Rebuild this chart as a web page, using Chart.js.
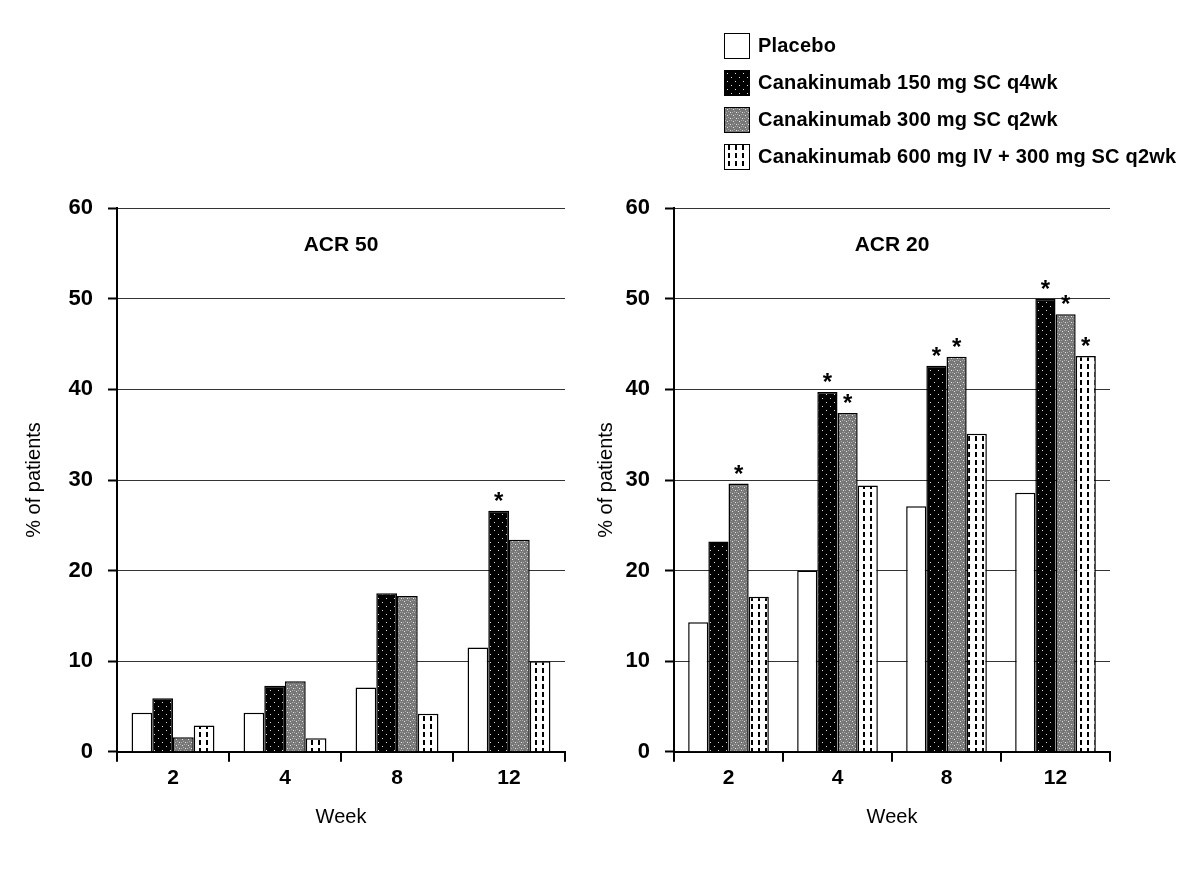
<!DOCTYPE html>
<html>
<head>
  <meta charset="utf-8" />
  <title>ACR response</title>
  <script src="https://cdn.jsdelivr.net/npm/chart.js@4"></script>
  <style>
    body, html { margin: 0; padding: 0; background: #fff; }
    #wrap { position: relative; width: 1200px; height: 873px; font-family: "Liberation Sans", Arial, sans-serif; }
    canvas.chart { position: absolute; }
    #legend { position: absolute; left: 724px; top: 27px; }
    .item { display: flex; align-items: center; height: 37px; }
    .item canvas { width: 24px; height: 24px; border: 1px solid #000; margin-right: 8px; }
    .item span { font-weight: bold; font-size: 20px; letter-spacing: 0.2px; color: #000; }
  </style>
</head>
<body>
<div id="wrap">
  <div id="legend"></div>
  <canvas id="acr50" class="chart" style="left:0;top:180px" width="580" height="649"></canvas>
  <canvas id="acr20" class="chart" style="left:580px;top:180px" width="620" height="649"></canvas>
</div>
<script>
  // data
  const weeks = ['2', '4', '8', '12'];
  const seriesNames = [
    'Placebo',
    'Canakinumab 150 mg SC q4wk',
    'Canakinumab 300 mg SC q2wk',
    'Canakinumab 600 mg IV + 300 mg SC q2wk'
  ];

  const acr50Placebo = [4.3, 4.3, 7.1, 11.5];
  const acr50Can150 = [5.9, 7.3, 17.5, 26.6];
  const acr50Can300 = [1.6, 7.8, 17.2, 23.4];
  const acr50Can600 = [2.9, 1.5, 4.2, 10.0];

  const acr20Placebo = [14.3, 20.0, 27.1, 28.6];
  const acr20Can150 = [23.2, 39.7, 42.6, 50.0];
  const acr20Can300 = [29.6, 37.4, 43.6, 48.3];
  const acr20Can600 = [17.1, 29.4, 35.1, 43.7];

  // significance stars, one row per series (1 = *)
  const acr50Sig = [[0, 0, 0, 0], [0, 0, 0, 1], [0, 0, 0, 0], [0, 0, 0, 0]];
  const acr20Sig = [[0, 0, 0, 0], [0, 1, 1, 1], [1, 1, 1, 1], [0, 0, 0, 1]];

  const yTicks = [0, 10, 20, 30, 40, 50, 60];

  // fill patterns
  function makeTile(w, h, draw) {
    const c = document.createElement('canvas');
    c.width = w; c.height = h;
    draw(c.getContext('2d'));
    return c;
  }
  const tiles = [
    makeTile(8, 8, g => { g.fillStyle = '#fff'; g.fillRect(0, 0, 8, 8); }),
    makeTile(8, 8, g => {
      g.fillStyle = '#000'; g.fillRect(0, 0, 8, 8);
      g.fillStyle = '#ddd'; g.fillRect(2, 2, 1, 1); g.fillRect(6, 6, 1, 1);
    }),
    makeTile(6, 6, g => {
      g.fillStyle = '#777'; g.fillRect(0, 0, 6, 6);
      g.fillStyle = '#aaa'; g.fillRect(0, 0, 1, 1); g.fillRect(3, 3, 1, 1); g.fillRect(4, 0, 1, 1); g.fillRect(1, 4, 1, 1);
      g.fillStyle = '#e6e6e6'; g.fillRect(2, 1, 1, 1); g.fillRect(5, 4, 1, 1);
    }),
    makeTile(7, 8, g => {
      g.fillStyle = '#fff'; g.fillRect(0, 0, 7, 8);
      g.fillStyle = '#000'; g.fillRect(3, 0, 2, 5);
    })
  ];
  const fills = tiles.map(t => document.createElement('canvas').getContext('2d').createPattern(t, 'repeat'));

  // legend
  const legend = document.getElementById('legend');
  seriesNames.forEach((name, i) => {
    const row = document.createElement('div');
    row.className = 'item';
    const sw = document.createElement('canvas');
    sw.width = 24; sw.height = 24;
    const g = sw.getContext('2d');
    g.fillStyle = g.createPattern(tiles[i], 'repeat');
    g.fillRect(0, 0, 24, 24);
    const label = document.createElement('span');
    label.textContent = name;
    row.appendChild(sw);
    row.appendChild(label);
    legend.appendChild(row);
  });

  const starPlugin = {
    id: 'stars',
    afterDatasetsDraw(chart) {
      const ctx = chart.ctx;
      ctx.save();
      ctx.font = 'bold 24px "Liberation Sans", Arial';
      ctx.fillStyle = '#000';
      ctx.textAlign = 'center';
      ctx.textBaseline = 'alphabetic';
      chart.data.datasets.forEach((ds, i) => {
        chart.getDatasetMeta(i).data.forEach((bar, j) => {
          if (ds.sig[j]) ctx.fillText('*', bar.x, bar.y - 2);
        });
      });
      ctx.restore();
    }
  };

  const panelTitle = {
    id: 'panelTitle',
    afterDraw(chart, args, opts) {
      const a = chart.chartArea;
      const ctx = chart.ctx;
      ctx.save();
      ctx.font = 'bold 21px "Liberation Sans", Arial';
      ctx.fillStyle = '#000';
      ctx.textAlign = 'center';
      ctx.textBaseline = 'middle';
      ctx.fillText(opts.text, (a.left + a.right) / 2, a.top + 37);
      ctx.restore();
    }
  };

  function makeChart(id, values, sig, title, axisWidth, titlePad, padRight) {
    return new Chart(document.getElementById(id), {
      type: 'bar',
      data: {
        labels: weeks,
        datasets: values.map((v, i) => ({
          label: seriesNames[i],
          data: v,
          sig: sig[i],
          backgroundColor: fills[i],
          borderColor: '#000',
          borderWidth: 1.5,
          categoryPercentage: 0.74,
          barPercentage: 1
        }))
      },
      options: {
        responsive: false,
        animation: false,
        layout: { padding: { top: 24, right: padRight, left: 0, bottom: 0 } },
        plugins: {
          legend: { display: false },
          tooltip: { enabled: false },
          panelTitle: { text: title }
        },
        scales: {
          x: {
            grid: { offset: true, drawOnChartArea: false, drawTicks: true, tickLength: 10, color: '#000', lineWidth: 2 },
            border: { color: '#000', width: 2 },
            ticks: { color: '#000', padding: 4, font: { family: '"Liberation Sans", Arial', size: 21, weight: 'bold' } },
            title: { display: true, text: 'Week', color: '#000', padding: { top: 10, bottom: 0 }, font: { family: '"Liberation Sans", Arial', size: 20 } }
          },
          y: {
            min: 0, max: 60,
            afterBuildTicks: s => { s.ticks = yTicks.map(v => ({ value: v })); },
            afterFit: s => { s.width = axisWidth; },
            grid: { color: '#333', lineWidth: 1, tickLength: 9, tickColor: '#000', tickWidth: 2 },
            border: { color: '#000', width: 2 },
            ticks: { color: '#000', padding: 15, font: { family: '"Liberation Sans", Arial', size: 22, weight: 'bold' } },
            title: { display: true, text: '% of patients', color: '#000', padding: { top: titlePad, bottom: 0 }, font: { family: '"Liberation Sans", Arial', size: 20 } }
          }
        }
      },
      plugins: [starPlugin, panelTitle]
    });
  }

  makeChart('acr50', [acr50Placebo, acr50Can150, acr50Can300, acr50Can600], acr50Sig, 'ACR 50', 117, 22, 15);
  makeChart('acr20', [acr20Placebo, acr20Can150, acr20Can300, acr20Can600], acr20Sig, 'ACR 20', 94, 14, 90);
</script>
</body>
</html>
